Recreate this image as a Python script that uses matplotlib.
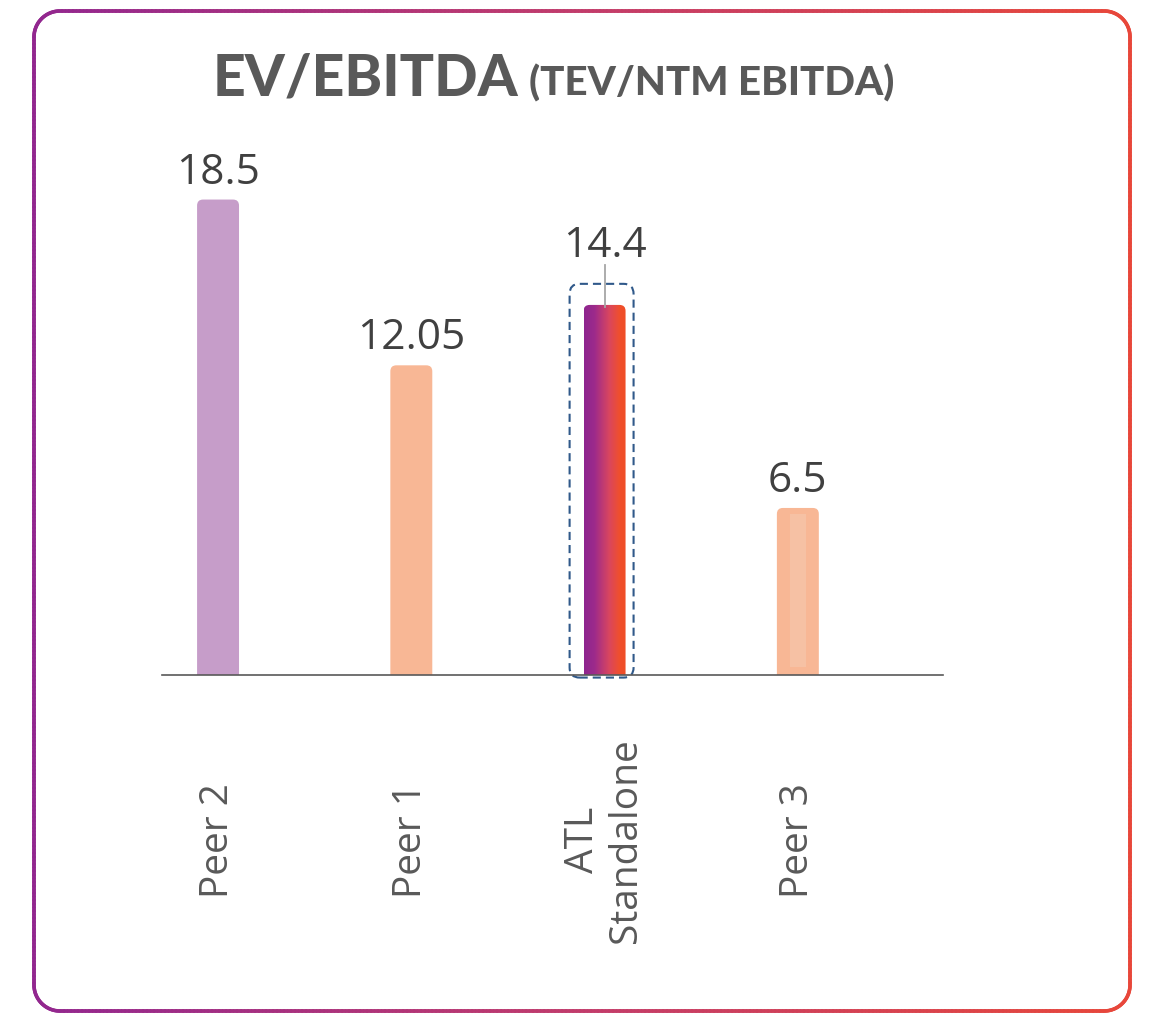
import numpy as np
import matplotlib
matplotlib.use('Agg')
import matplotlib.pyplot as plt
from matplotlib.patches import FancyBboxPatch
from matplotlib.collections import LineCollection
from matplotlib.colors import LinearSegmentedColormap

categories = ['Peer 2', 'Peer 1', 'ATL\nStandalone', 'Peer 3']
multiples = [18.5, 12.05, 14.4, 6.5]
bar_colors = ['#C69DC9', '#F8B795', '#F04F2C', '#F8B795']
highlight = 2  # ATL standalone gets the gradient + dashed box

W, H = 1149, 1013
TEXT_GREY = '#595959'
brand = LinearSegmentedColormap.from_list(
    'brand', [(0, '#92278F'), (0.5, '#C23C6B'), (1, '#E8473A')])
atl_cmap = LinearSegmentedColormap.from_list(
    'atl', [(0, '#8E258F'), (0.25, '#9C2A8B'), (0.6, '#D9465F'),
            (0.85, '#F04F2C'), (1, '#EF4E27')])

fig = plt.figure(figsize=(W / 100, H / 100), dpi=100)

# rounded frame with a purple -> red gradient stroke
bg = fig.add_axes([0, 0, 1, 1])
bg.set_xlim(0, W)
bg.set_ylim(H, 0)
bg.axis('off')
x0, x1, y0, y1, r = 34, 1130, 11, 1011, 26


def arc(cx, cy, a0, a1):
    t = np.radians(np.linspace(a0, a1, 40))
    return np.column_stack([cx + r * np.cos(t), cy + r * np.sin(t)])


pts = np.vstack([arc(x0 + r, y0 + r, 180, 270), arc(x1 - r, y0 + r, 270, 360),
                 arc(x1 - r, y1 - r, 0, 90), arc(x0 + r, y1 - r, 90, 180)])
pts = np.vstack([pts, pts[:1]])
seglen = np.hypot(*np.diff(pts, axis=0).T)
s = np.concatenate([[0], np.cumsum(seglen)])
ss = np.linspace(0, s[-1], 3000)
pts = np.column_stack([np.interp(ss, s, pts[:, 0]), np.interp(ss, s, pts[:, 1])])
segs = np.stack([pts[:-1], pts[1:]], axis=1)
mid_x = segs[:, :, 0].mean(axis=1)
lc = LineCollection(segs, colors=brand((mid_x - x0) / (x1 - x0)),
                    linewidth=2.6, capstyle='round')
bg.add_collection(lc)

# main chart
ax = fig.add_axes([162 / W, 1 - 675 / H, (943 - 162) / W, (675 - 140) / H])
x = np.arange(len(categories))
bars = ax.bar(x, multiples, width=0.217, color=bar_colors)

px_x = 193.3   # pixels per category step
px_y = 25.7    # pixels per multiple
rx = 6 / px_x
ry = 6 / px_y
for i, b in enumerate(bars):
    bx, by, bw, bh = b.get_x(), b.get_y(), b.get_width(), b.get_height()
    b.set_visible(False)
    patch = FancyBboxPatch((bx, by - ry), bw, bh + ry,
                           boxstyle=f'round,pad=0,rounding_size={rx}',
                           mutation_aspect=px_x / px_y,
                           facecolor=bar_colors[i] if i != highlight else 'none',
                           edgecolor='none', zorder=2)
    ax.add_patch(patch)
    if i == highlight:
        grad = np.linspace(0, 1, 256).reshape(1, -1)
        im = ax.imshow(grad, cmap=atl_cmap, extent=[bx, bx + bw, by - ry, by + bh],
                       aspect='auto', zorder=2, interpolation='bilinear')
        im.set_clip_path(patch)

# faint inner stripe on the Peer 3 bar
ax.bar(x[3], multiples[3] - 0.55, bottom=0.3, width=0.08, color='#F6C1A4',
       zorder=3)

# dashed highlight box and leader line on ATL
hv = multiples[highlight]
box = FancyBboxPatch((x[highlight] - 0.181, -0.1), 0.331, hv + 0.92,
                     boxstyle=f'round,pad=0,rounding_size={10 / px_x}',
                     mutation_aspect=px_x / px_y, facecolor='none',
                     edgecolor='#30598A', linewidth=1.5,
                     linestyle=(0, (3.9, 2.4)), zorder=4, clip_on=False)
ax.add_patch(box)
ax.plot([x[highlight], x[highlight]], [hv - 0.1, hv + 1.55], color='#A6A6A6',
        lw=1.3, zorder=5)

# value labels
for i, v in enumerate(multiples):
    off = 34.5 if i == highlight else 11.5
    ax.annotate(str(v), xy=(x[i], v), xytext=(0, off), textcoords='offset points',
                ha='center', va='baseline', fontsize=30.5, family='Open Sans',
                color='#404040', annotation_clip=False)

ax.set_xlim(-0.29, 3.751)
ax.set_ylim(0, (675 - 140) / px_y)
for side in ['top', 'right', 'left']:
    ax.spines[side].set_visible(False)
ax.spines['bottom'].set_color(TEXT_GREY)
ax.spines['bottom'].set_linewidth(1.2)
ax.spines['bottom'].set_zorder(6)
ax.set_yticks([])
ax.set_xticks(x)
ax.set_xticklabels(categories, rotation=90, ha='center', va='center',
                   multialignment='center', fontsize=28, family='Open Sans',
                   color=TEXT_GREY)
ax.tick_params(axis='x', length=0, pad=119)
ax.patch.set_alpha(0)

# title in two sizes
base_y = 1 - 95 / H
t1 = fig.text(213 / W, base_y, 'EV/EBITDA', fontsize=41, fontweight='black',
              family='Lato', color=TEXT_GREY, va='baseline')
fig.canvas.draw()
bb = t1.get_window_extent()
fig.text((bb.x1 + 10) / W, base_y, '(TEV/NTM EBITDA)', fontsize=29,
         fontweight='black', family='Lato', color=TEXT_GREY, va='baseline')

fig.savefig('out.png', dpi=100, facecolor='white')
